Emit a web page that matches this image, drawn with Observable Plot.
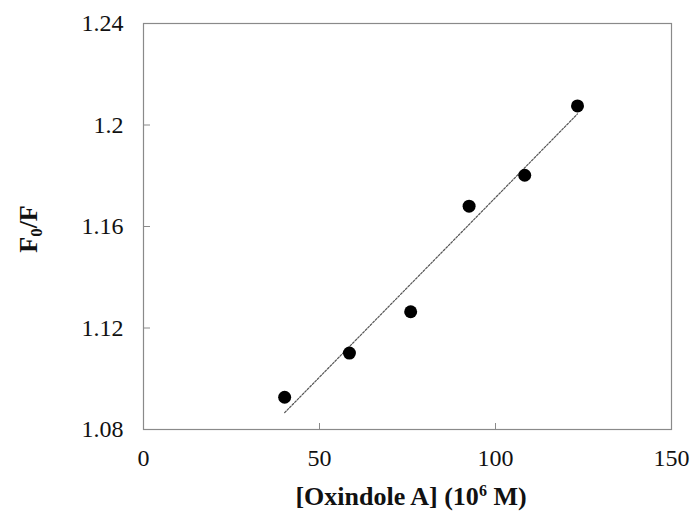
<!DOCTYPE html>
<html>
<head>
<meta charset="utf-8">
<script src="https://cdn.jsdelivr.net/npm/d3@7"></script>
<script src="https://cdn.jsdelivr.net/npm/@observablehq/plot@0.6"></script>
<style>
  html, body { margin: 0; padding: 0; background: #fff; }
  svg { display: block; }
</style>
</head>
<body>
<div id="chart"></div>
<script>
// Data
const concentration = [40.1, 58.5, 75.9, 92.5, 108.3, 123.3];
const ratio = [1.0927, 1.1101, 1.1264, 1.1680, 1.1802, 1.2075];
const xTicks = [0, 50, 100, 150];
const yTicks = [1.08, 1.12, 1.16, 1.2, 1.24];
const xLabel = "[Oxindole A] (10";
const xLabelSup = "6";
const xLabelEnd = " M)";
const yLabel = "F";
const yLabelSub = "0";
const yLabelEnd = "/F";

const data = concentration.map((x, i) => ({x, y: ratio[i]}));

const W = 693, H = 513;
const mL = 143, mR = 22, mT = 23, mB = 84;
const innerW = W - mL - mR, innerH = H - mT - mB;
const font = "'Liberation Serif', 'Times New Roman', serif";

const chart = Plot.plot({
  width: W,
  height: H,
  marginLeft: mL,
  marginRight: mR,
  marginTop: mT,
  marginBottom: mB,
  style: {fontFamily: font, fontSize: "24px", color: "#111", background: "#fff"},
  x: {domain: [0, 150], ticks: xTicks, label: null},
  y: {domain: [1.08, 1.24], ticks: yTicks, label: null},
  marks: [
    Plot.frame({stroke: "#8a8a8a", strokeWidth: 1.2}),
    Plot.tickY(yTicks, {y: d => d, stroke: "#8a8a8a", insetRight: innerW - 7}),
    Plot.tickX(xTicks, {x: d => d, stroke: "#8a8a8a", insetTop: innerH - 6}),
    Plot.axisX({ticks: xTicks, tickSize: 0, tickPadding: 19, fontSize: 24, tickFormat: d => String(d)}),
    Plot.axisY({ticks: yTicks, tickSize: 0, tickPadding: 20, fontSize: 24, tickFormat: d => String(d)}),
    Plot.linearRegressionY(data, {x: "x", y: "y", ci: 0, stroke: "#555", strokeWidth: 1.2, strokeDasharray: "2,1.6"}),
    Plot.dot(data, {x: "x", y: "y", r: 6.5, fill: "#000", stroke: "none"})
  ]
});

const svg = d3.select(chart);
// x-axis title with superscript
const xt = svg.append("text")
  .attr("x", 411)
  .attr("y", 505)
  .attr("text-anchor", "middle")
  .attr("font-family", font)
  .attr("font-size", 26)
  .attr("font-weight", "bold")
  .attr("fill", "#111");
xt.append("tspan").text(xLabel);
xt.append("tspan").attr("font-size", 16).attr("dy", -9).text(xLabelSup);
xt.append("tspan").attr("dy", 9).text(xLabelEnd);

// y-axis title with subscript
const yt = svg.append("text")
  .attr("transform", `translate(37, ${mT + innerH / 2 + 3}) rotate(-90)`)
  .attr("text-anchor", "middle")
  .attr("font-family", font)
  .attr("font-size", 26)
  .attr("font-weight", "bold")
  .attr("fill", "#111");
yt.append("tspan").text(yLabel);
yt.append("tspan").attr("font-size", 17).attr("dy", 5).text(yLabelSub);
yt.append("tspan").attr("dy", -5).text(yLabelEnd);

document.getElementById("chart").appendChild(chart);
</script>
</body>
</html>
